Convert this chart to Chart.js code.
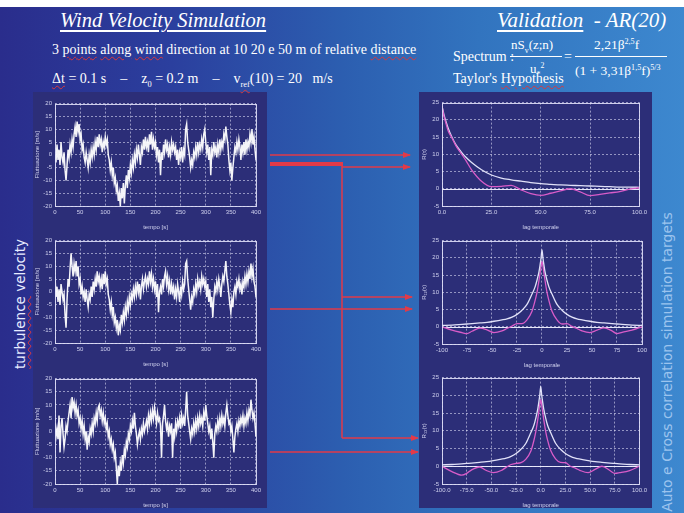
<!DOCTYPE html>
<html>
<head>
<meta charset="utf-8">
<script src="https://cdn.jsdelivr.net/npm/chart.js@4.4.1/dist/chart.umd.min.js"></script>
<style>
  html, body { margin: 0; padding: 0; background: #fff; }
  #slide { position: relative; width: 684px; height: 513px; overflow: hidden; background: #fff; }
  #bg { position: absolute; left: 0; top: 7px; width: 684px; height: 506px;
        background: linear-gradient(90deg, #2a2d8c 0%, #2b3f9e 25%, #2c5eb0 50%, #3274bf 70%, #3d88cf 100%); }
  .panel { position: absolute; background: #2c2e78; }
  .t { position: absolute; color: #fff; font-family: "Liberation Serif", "Times New Roman", serif; white-space: nowrap; line-height: 1; }
  .sq { text-decoration: underline wavy #d8383c; text-decoration-thickness: 1px; text-underline-offset: 2px; }
  canvas { position: absolute; }
  sub, sup { font-size: 60%; line-height: 0; }
  svg { position: absolute; left: 0; top: 0; }
</style>
</head>
<body>
<div id="slide">
  <div id="bg"></div>
  <div class="panel" style="left:33px;top:92px;width:234px;height:416px"></div>
  <div class="panel" style="left:419px;top:92px;width:233px;height:416px"></div>

  <div class="t" style="left:60px;top:10px;font-size:20.5px;font-style:italic;text-decoration:underline;text-underline-offset:3px">Wind Velocity Simulation</div>
  <div class="t" style="left:497px;top:10px;font-size:21px;font-style:italic"><span style="text-decoration:underline;text-underline-offset:3px">Validation</span>&nbsp; - AR(20)</div>

  <div class="t" style="left:52px;top:43px;font-size:14px">3 <span class="sq">points</span> <span class="sq">along</span> <span class="sq">wind</span> direction at 10 20 e 50 m of relative <span class="sq">distance</span></div>
  <div class="t" style="left:52px;top:72px;font-size:14px"><span class="sq">Δt</span> = 0.1 s &nbsp;&nbsp; – &nbsp;&nbsp; z<sub>0</sub> = 0.2 m &nbsp;&nbsp; – &nbsp;&nbsp; v<sub class="sq">ref</sub>(10) = 20&nbsp;&nbsp; m/s</div>

  <div class="t" style="left:453px;top:50px;font-size:14px">Spectrum :</div>
  <div class="t" style="left:511px;top:38px;font-size:13px">nS<sub>v</sub>(z;n)</div>
  <div style="position:absolute;left:510px;top:56px;width:52px;border-top:1px solid #fff"></div>
  <div class="t" style="left:530px;top:62px;font-size:13px">u<sub>*</sub><sup>2</sup></div>
  <div class="t" style="left:564px;top:50px;font-size:14px">=</div>
  <div class="t" style="left:594px;top:38px;font-size:13.5px">2,21β<sup>2,5</sup>f</div>
  <div style="position:absolute;left:575px;top:56px;width:92px;border-top:1px solid #fff"></div>
  <div class="t" style="left:575px;top:64px;font-size:13.5px">(1 + 3,31β<sup>1,5</sup>f)<sup>5/3</sup></div>
  <div class="t" style="left:453px;top:72px;font-size:14px">Taylor's <span class="sq">Hypothesis</span></div>

  <div class="t" style="left:21px;top:304px;font-size:13.5px;font-family:'DejaVu Sans',sans-serif;transform:translate(-50%,-50%) rotate(-90deg);color:#e8ecff"><span class="sq">turbulence</span> velocity</div>
  <div class="t" style="left:667px;top:362px;font-size:14px;font-family:'DejaVu Sans',sans-serif;transform:translate(-50%,-50%) rotate(-90deg);color:#9cc4ee">Auto e Cross correlation simulation targets</div>

  <canvas id="c1" width="231" height="135" style="left:33px;top:97px"></canvas>
  <canvas id="c2" width="231" height="135" style="left:33px;top:234px"></canvas>
  <canvas id="c3" width="231" height="138" style="left:33px;top:372px"></canvas>
  <canvas id="c4" width="230" height="136" style="left:420px;top:96px"></canvas>
  <canvas id="c5" width="230" height="136" style="left:420px;top:234px"></canvas>
  <canvas id="c6" width="230" height="139" style="left:420px;top:371px"></canvas>

  <svg width="684" height="513">
    <defs>
      <marker id="ah" markerWidth="8" markerHeight="6" refX="7" refY="3" orient="auto" markerUnits="userSpaceOnUse">
        <path d="M0,0 L8,3 L0,6 z" fill="#e23a48"/>
      </marker>
    </defs>
    <g stroke="#e23a48" fill="none">
      <line x1="270" y1="155" x2="410" y2="155" stroke-width="1.5" marker-end="url(#ah)"/>
      <line x1="270" y1="164" x2="343" y2="164" stroke-width="4"/>
      <line x1="342" y1="167" x2="410" y2="167" stroke-width="1.5" marker-end="url(#ah)"/>
      <line x1="342" y1="164" x2="342" y2="438" stroke-width="1.5"/>
      <line x1="342" y1="297" x2="412" y2="297" stroke-width="1.5" marker-end="url(#ah)"/>
      <line x1="270" y1="309" x2="412" y2="309" stroke-width="1.5" marker-end="url(#ah)"/>
      <line x1="342" y1="438" x2="418" y2="438" stroke-width="1.5" marker-end="url(#ah)"/>
      <line x1="270" y1="452" x2="418" y2="452" stroke-width="1.5" marker-end="url(#ah)"/>
    </g>
  </svg>
</div>

<script>
// turbulence velocity fluctuations [m/s], one value every 2 s (0..400 s)
const tempoStep = 2;
const uPoint1 = [
  0,-3,4,-2,2,-4,5,-1,-3,1,
  -6,-10,-4,2,-1,4,1,6,3,8,
  11,7,13,9,12,6,8,2,4,-1,
  -3,1,-2,-5,0,-3,2,-1,3,0,
  5,2,7,3,8,4,6,1,5,3,
  7,4,6,0,-2,-6,-3,-8,-5,-11,
  -9,-14,-12,-18,-15,-20,-13,-17,-11,-19,
  -12,-8,-13,-6,-9,-4,-7,-2,-5,0,
  -3,2,-1,4,0,-4,3,1,6,2,
  7,3,5,1,8,4,9,2,6,3,
  5,0,3,-3,2,-8,1,-2,4,1,
  6,2,4,-1,3,0,5,2,4,1,
  3,-2,2,-4,1,-1,3,-3,2,0,
  10,12,5,2,-1,-5,-2,-4,1,-1,
  3,0,5,1,4,2,6,3,8,10,
  5,1,4,-2,3,-8,2,0,5,1,
  3,-1,4,1,6,2,5,3,8,6,
  11,7,4,-2,-6,-3,-10,-5,-1,3,
  1,5,2,6,3,-2,4,1,5,0,
  6,2,5,3,8,5,10,4,7,2,
  -2
];
const uPoint2 = [
  6,-2,2,-4,1,-5,3,0,-3,-1,
  -9,-14,-3,5,2,9,15,10,6,11,
  8,12,6,10,3,5,-1,2,-2,0,
  -4,1,-3,-6,-1,-3,2,-2,4,1,
  5,2,8,4,6,2,5,1,7,3,
  8,3,5,-1,-3,-7,-4,-9,-6,-12,
  -10,-14,-11,-17,-13,-15,-9,-12,-8,-11,
  -6,-9,-4,-7,-2,-5,-1,-3,1,-2,
  2,-1,4,0,3,-3,2,5,1,4,
  6,2,5,3,8,4,7,2,5,1,
  4,-2,3,-8,0,2,-1,5,2,6,
  8,3,6,1,4,-1,3,0,2,-3,
  1,-2,3,0,-4,2,-1,4,1,3,
  11,12,5,1,-3,-7,-2,-4,1,-1,
  3,0,5,2,4,1,6,3,5,2,
  4,-2,3,-4,1,-6,-2,-10,-3,2,
  0,4,1,5,2,-2,3,6,4,8,
  12,6,3,-1,-5,-8,-3,-6,0,2,
  -1,4,2,5,1,3,-1,4,2,6,
  3,7,4,8,5,11,6,9,4,2,
  -2
];
const uPoint3 = [
  3,-2,1,-3,6,-8,2,5,-1,-6,
  -3,2,0,4,7,10,5,13,9,11,
  7,10,6,8,3,5,1,4,-1,2,
  -3,0,-7,-2,-4,1,-1,3,0,5,
  3,7,4,9,10,6,8,4,7,3,
  5,1,3,-2,0,-5,-3,-7,-5,-10,
  -8,-14,-20,-13,-17,-12,-15,-9,-12,-7,
  -9,-4,-6,-1,-3,2,0,4,1,7,
  2,-1,-5,-2,0,-3,1,-1,3,0,
  2,4,1,6,3,7,4,8,5,9,
  6,3,7,4,5,2,-10,3,6,10,
  4,1,3,-2,2,0,3,-10,1,-2,
  3,0,4,2,5,1,6,3,5,2,
  8,15,6,3,0,-3,1,-1,3,0,
  4,1,5,2,6,3,5,2,7,4,
  10,6,3,0,2,-3,1,-4,-10,-1,
  2,0,4,1,5,2,6,3,5,2,
  7,10,6,3,4,0,2,-3,-8,-2,
  1,3,0,4,2,5,3,6,2,5,
  3,7,4,8,6,12,8,5,7,3,
  -2
];

// autocorrelation (lag 0..100) : target and AR(20) simulation
const lagAuto = [0,1,2,3,5,7,10,12,15,20,25,30,35,40,45,50,55,60,65,70,75,80,85,90,95,100];
const rAutoTarget = [24,21.5,19.5,17.8,15,12.8,10.5,9.2,7.6,5.5,4,3.1,2.6,2.2,1.8,1.5,1.3,1.1,1.0,0.9,0.8,0.7,0.6,0.5,0.5,0.4];
const rAutoSim = [24,21,19,17,14.8,12.5,10,8.3,5.5,2.2,0.6,0.7,1.0,-0.3,-1.4,-1.9,-1.3,-0.6,0,-0.9,-2,-1.6,-1.2,-0.8,-0.1,0.3];

// cross correlation (lag -100..100)
const lagCross = [-100,-90,-80,-75,-70,-62,-55,-48,-40,-35,-30,-25,-20,-15,-10,-7,-5,-3,-2,-1,0,1,2,3,5,7,10,15,20,25,30,35,40,48,55,62,70,75,80,90,100];
const r12Target = [0.4,0.5,0.7,0.8,0.9,1.1,1.3,1.6,2.0,2.3,2.8,3.6,4.8,6.5,9.5,11.5,13.5,16,17.8,19.8,22.3,19.8,17.8,16,13.5,11.5,9.5,6.5,4.8,3.6,2.8,2.3,2.0,1.6,1.3,1.1,0.9,0.8,0.7,0.5,0.4];
const r12Sim = [0,-1,-1.7,-2,-1.3,-0.4,-0.9,-1.7,-1.2,-0.5,0.2,0.9,0.9,2,4.5,7.5,10,13.5,15.5,17.5,19,17.5,15.5,13.5,10,7.5,4.5,2,0.8,0.9,0.1,-0.5,-1.2,-1.7,-1.0,-0.3,-1.2,-2,-1.6,-1,0];
const r13Target = [0.4,0.5,0.7,0.8,0.9,1.1,1.3,1.6,2.0,2.3,2.8,3.6,4.8,6.5,9.5,11.5,13.6,16.2,18,20,22.5,20,18,16.2,13.6,11.5,9.5,6.5,4.8,3.6,2.8,2.3,2.0,1.6,1.3,1.1,0.9,0.8,0.7,0.5,0.4];
const r13Sim = [0,-1.5,-2.5,-2,-1,-0.2,-1.2,-1.8,-1.2,-0.3,0.5,0.8,1.0,2,4.3,7.2,9.8,13.2,15.3,17.3,18.8,17.3,15.3,13.2,9.8,7.3,4.5,2.1,1.1,1.0,0,-0.5,-1.2,-1.8,-0.9,0,-1.2,-2,-1.8,-1.2,0];

const tickColor = 'rgba(230,232,255,0.85)';
const gridColor = 'rgba(235,235,255,0.55)';

const framePlugin = {
  id: 'frame',
  beforeDatasetsDraw(chart, args, opts) {
    if (!opts.zero) return;
    const {ctx, chartArea: a} = chart;
    const y = Math.round(chart.scales.y.getPixelForValue(0)) + 0.5;
    ctx.save();
    ctx.strokeStyle = 'rgba(240,240,255,0.95)';
    ctx.lineWidth = 1.2;
    ctx.beginPath();
    ctx.moveTo(a.left, y);
    ctx.lineTo(a.right, y);
    ctx.stroke();
    ctx.restore();
  },
  afterDraw(chart) {
    const {ctx, chartArea: a} = chart;
    ctx.save();
    ctx.setLineDash([]);
    ctx.strokeStyle = 'rgba(225,225,250,0.9)';
    ctx.lineWidth = 1;
    ctx.strokeRect(Math.round(a.left) + 0.5, Math.round(a.top) + 0.5, Math.round(a.width), Math.round(a.height));
    ctx.restore();
  }
};

function scaleOpts(min, max, step, title, fmt, isX) {
  return {
    type: 'linear', min: min, max: max,
    border: { display: false, dash: [2, 2] },
    grid: { color: gridColor, lineWidth: 1, drawTicks: false },
    ticks: {
      stepSize: step, color: tickColor, autoSkip: false, maxRotation: 0, padding: 3,
      font: { size: 6, family: 'Liberation Sans' },
      callback: fmt
    },
    title: { display: true, text: title, color: tickColor, padding: 1, font: { size: 6, family: 'Liberation Sans' } },
    afterFit: isX ? (s) => { s.height = 26; } : (s) => { s.width = 22; }
  };
}

function series(xs, ys) {
  return ys.map((v, i) => ({ x: xs[i], y: v }));
}

function makeChart(id, datasets, xs, ys, zero) {
  return new Chart(document.getElementById(id), {
    type: 'line',
    data: { datasets: datasets },
    options: {
      responsive: false, animation: false, devicePixelRatio: 1,
      layout: { padding: { top: 4, right: 4, left: 0, bottom: 0 } },
      plugins: { legend: { display: false }, tooltip: { enabled: false }, frame: { zero: zero } },
      elements: { point: { radius: 0 } },
      scales: { x: xs, y: ys }
    },
    plugins: [framePlugin]
  });
}

const tempo = uPoint1.map((_, i) => i * tempoStep);
const fmtInt = (v) => String(v);
const fmtDec = (v) => v.toFixed(1);

[['c1', uPoint1], ['c2', uPoint2], ['c3', uPoint3]].forEach(([id, u]) => {
  makeChart(id,
    [{ data: series(tempo, u), borderColor: 'rgba(255,255,255,0.95)', borderWidth: 1.5, tension: 0 }],
    scaleOpts(0, 400, 50, 'tempo [s]', fmtInt, true),
    scaleOpts(-20, 20, 5, 'Fluttuazione [m/s]', fmtInt, false),
    false);
});

const simColor = '#d85cc8';
const targetColor = 'rgba(235,235,255,0.95)';

makeChart('c4', [
  { data: series(lagAuto, rAutoSim), borderColor: simColor, borderWidth: 1.3, cubicInterpolationMode: 'monotone' },
  { data: series(lagAuto, rAutoTarget), borderColor: targetColor, borderWidth: 1.3, cubicInterpolationMode: 'monotone' }
], scaleOpts(0, 100, 25, 'lag temporale', fmtDec, true), scaleOpts(-5, 25, 5, 'R(τ)', fmtInt, false), true);

makeChart('c5', [
  { data: series(lagCross, r12Target), borderColor: targetColor, borderWidth: 1.3, cubicInterpolationMode: 'monotone' },
  { data: series(lagCross, r12Sim), borderColor: simColor, borderWidth: 1.3, cubicInterpolationMode: 'monotone' }
], scaleOpts(-100, 100, 25, 'lag temporale', fmtInt, true), scaleOpts(-5, 25, 5, 'R₁₂(τ)', fmtInt, false), true);

makeChart('c6', [
  { data: series(lagCross, r13Target), borderColor: targetColor, borderWidth: 1.3, cubicInterpolationMode: 'monotone' },
  { data: series(lagCross, r13Sim), borderColor: simColor, borderWidth: 1.3, cubicInterpolationMode: 'monotone' }
], scaleOpts(-100, 100, 25, 'lag temporale', fmtDec, true), scaleOpts(-5, 25, 5, 'R₁₃(τ)', fmtInt, false), true);
</script>
</body>
</html>
